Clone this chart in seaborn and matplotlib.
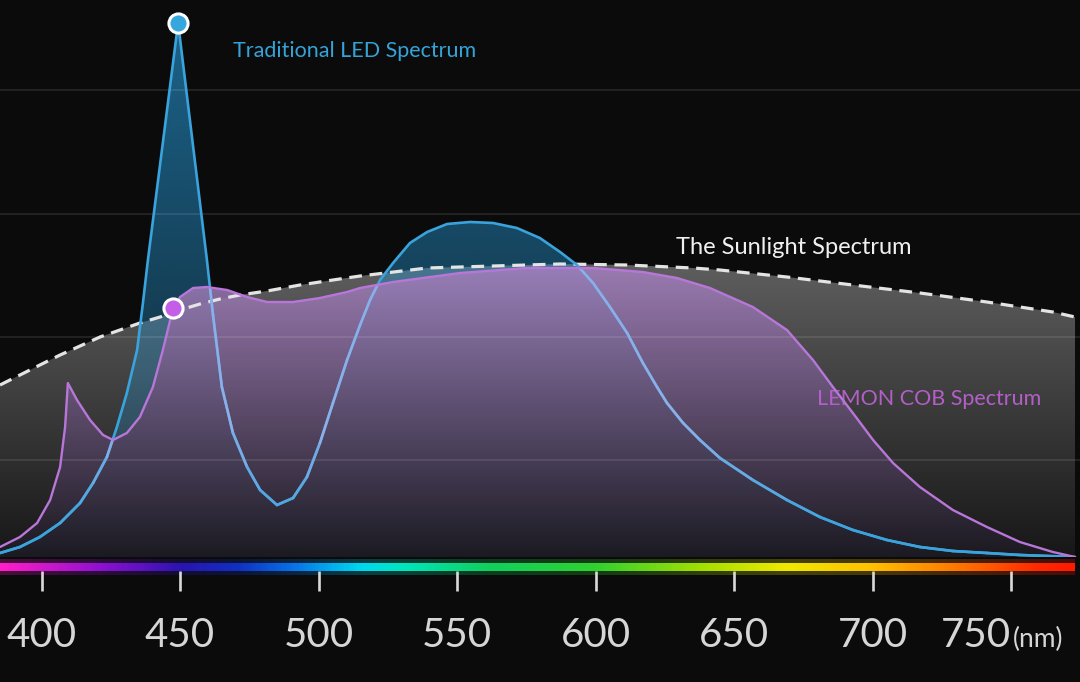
import numpy as np
import matplotlib
matplotlib.use("Agg")
import matplotlib.pyplot as plt
from matplotlib.colors import LinearSegmentedColormap, to_rgba
from matplotlib.collections import LineCollection
from matplotlib.patches import PathPatch
import seaborn as sns

# wavelength (nm) / relative intensity
sun_nm = [385.0, 392.2, 399.4, 406.7, 413.9, 421.1, 428.3, 435.5, 442.8, 450.0,
          457.2, 464.4, 471.6, 481.4, 493.3, 505.2, 515.0, 539.2, 563.0, 587.2,
          611.4, 635.2, 644.9, 669.1, 692.9, 717.1, 741.3, 765.1, 773.1]
sun_val = [1.72, 1.82, 1.92, 2.02, 2.11, 2.20, 2.27, 2.34, 2.40, 2.47,
           2.53, 2.58, 2.62, 2.66, 2.72, 2.77, 2.81, 2.89, 2.91, 2.93,
           2.92, 2.89, 2.87, 2.80, 2.72, 2.64, 2.55, 2.45, 2.40]

led_nm = [385.0, 392.2, 399.4, 406.7, 413.9, 418.6, 423.6, 427.2, 430.8, 434.5,
          436.6, 438.4, 449.3, 459.7, 461.9, 465.1, 469.1, 474.2, 478.9, 485.0,
          490.8, 495.8, 500.5, 505.2, 510.3, 515.0, 518.6, 522.2, 526.9, 533.0,
          539.2, 546.4, 554.7, 563.0, 571.6, 579.9, 587.2, 593.3, 599.1, 605.2,
          611.4, 617.1, 622.2, 625.8, 631.6, 637.7, 644.9, 656.8, 669.1, 681.0,
          692.9, 705.2, 717.1, 729.0, 741.3, 753.2, 773.1]
led_val = [0.04, 0.10, 0.20, 0.34, 0.54, 0.74, 1.00, 1.30, 1.64, 2.07,
           2.54, 2.97, 5.34, 2.97, 2.42, 1.70, 1.24, 0.90, 0.67, 0.52,
           0.59, 0.80, 1.14, 1.54, 1.97, 2.32, 2.57, 2.77, 2.94, 3.14,
           3.25, 3.33, 3.35, 3.34, 3.29, 3.19, 3.05, 2.92, 2.74, 2.50,
           2.24, 1.94, 1.70, 1.54, 1.34, 1.17, 0.99, 0.77, 0.57, 0.40,
           0.27, 0.17, 0.10, 0.06, 0.04, 0.02, 0.00]

cob_nm = [385.0, 392.2, 398.4, 403.1, 406.7, 408.5, 409.5, 412.8, 417.5, 422.2,
          425.8, 430.8, 435.5, 440.2, 443.8, 447.5, 450.0, 454.7, 459.7, 467.0,
          474.2, 481.4, 490.8, 500.5, 510.3, 515.0, 526.9, 551.1, 575.3, 599.1,
          617.1, 629.4, 641.3, 656.8, 669.1, 678.5, 685.7, 692.9, 700.2, 707.4,
          717.1, 729.0, 741.3, 753.2, 765.1, 773.1]
cob_val = [0.10, 0.20, 0.34, 0.57, 0.90, 1.30, 1.74, 1.57, 1.37, 1.22,
           1.17, 1.24, 1.40, 1.70, 2.07, 2.49, 2.60, 2.69, 2.70, 2.67,
           2.60, 2.55, 2.55, 2.59, 2.65, 2.69, 2.75, 2.84, 2.89, 2.89,
           2.85, 2.79, 2.69, 2.50, 2.27, 1.97, 1.70, 1.44, 1.17, 0.94,
           0.70, 0.47, 0.30, 0.15, 0.05, 0.00]
cob_marker_nm = 447.5

tick_nm = [400, 450, 500, 550, 600, 650, 700, 750]
tick_labels = ["400", "450", "500", "550", "600", "650", "700", "750"]

# colour strip under the chart
bar_nm = [385, 420, 450, 470, 490, 515, 530, 560, 600, 640, 670, 700, 730, 760, 773]
bar_colors = ["#ff1ec8", "#9010d0", "#2a14b0", "#1030c0", "#0870e8", "#00d8f0",
              "#00e6c0", "#10d060", "#30d030", "#a8e000", "#f0e800", "#ffc000",
              "#ff7a00", "#ff2a00", "#ff1a00"]

sns.set_theme(style="dark")
plt.rcParams["font.family"] = ["Lato", "DejaVu Sans"]

BG = "#0b0b0b"
LED_BLUE = "#3ba3dc"
LED_PALE = "#8eaee8"
X0, X1 = 385, 774.9
YMAX = 5.57

fig = plt.figure(figsize=(10.8, 6.82), dpi=100, facecolor=BG)
ax = fig.add_axes([0, 1 - 557 / 682, 1, 557 / 682])
ax.set_facecolor(BG)


def gradient_fill(ax, x, y, top, bottom, z):
    poly = ax.fill_between(x, y, 0, color="none", lw=0)
    clip = PathPatch(poly.get_paths()[0], transform=ax.transData, fc="none", ec="none")
    ax.add_patch(clip)
    t = np.linspace(0, 1, 256)[:, None]
    c0, c1 = np.array(to_rgba(bottom)), np.array(to_rgba(top))
    img = (c0 + (c1 - c0) * t)[:, None, :]
    im = ax.imshow(img, extent=[x[0], x[-1], 0, max(y)], origin="lower",
                   aspect="auto", zorder=z, interpolation="bilinear")
    im.set_clip_path(clip)
    return clip


gradient_fill(ax, sun_nm, sun_val, "#5e5e5e", "#171717", 1.0)
gradient_fill(ax, led_nm, led_val, (0.15, 0.6, 0.85, 0.62), (0.15, 0.6, 0.85, 0.15), 1.5)
cob_clip = gradient_fill(ax, cob_nm, cob_val, (0.64, 0.5, 0.74, 0.88),
                         (0.11, 0.1, 0.13, 0.9), 2.0)

# faint horizontal guides
ax.set_yticks([0.97, 2.20, 3.43, 4.67])
ax.set_axisbelow(False)
ax.grid(axis="y", color="white", alpha=0.10, lw=1.3)
ax.grid(axis="x", visible=False)

sns.lineplot(x=sun_nm, y=sun_val, ax=ax, color="#e4e4e4", lw=2.3, zorder=5)
ax.lines[-1].set_dashes((4, 2.4))
sns.lineplot(x=led_nm, y=led_val, ax=ax, color=LED_BLUE, lw=1.9, zorder=5.5)

# inside the COB area the LED line turns paler, fading back to blue near the floor
pts = np.column_stack([led_nm, led_val])
segs = np.stack([pts[:-1], pts[1:]], axis=1)
mid = (pts[:-1, 1] + pts[1:, 1]) / 2
w = np.clip((mid - 0.3) / 1.0, 0, 1)[:, None]
seg_cols = (1 - w) * np.array(to_rgba(LED_BLUE)) + w * np.array(to_rgba(LED_PALE))
lc = LineCollection(segs, colors=seg_cols, linewidths=1.9, zorder=5.6, capstyle="round")
ax.add_collection(lc)
lc.set_clip_path(cob_clip)

sns.lineplot(x=cob_nm, y=cob_val, ax=ax, color="#b877d8", lw=1.7, zorder=6)

i_led = int(np.argmax(led_val))
i_cob = cob_nm.index(cob_marker_nm)
sns.scatterplot(x=[led_nm[i_led]], y=[led_val[i_led]], ax=ax, s=190, color="#35a7dc",
                edgecolor="white", linewidth=2.2, zorder=8)
sns.scatterplot(x=[cob_nm[i_cob]], y=[cob_val[i_cob]], ax=ax, s=190, color="#c55ee6",
                edgecolor="white", linewidth=2.2, zorder=8)

ax.text(469, 5.06, "Traditional LED Spectrum", color="#35a3d8", fontsize=15.5,
        ha="left", va="center", zorder=4)
ax.text(629.2, 3.10, "The Sunlight Spectrum", color="#f0f0f0", fontsize=17,
        ha="left", va="center", zorder=4)
ax.text(679.8, 1.58, "LEMON COB Spectrum", color="#b45fc8", fontsize=15.5,
        ha="left", va="center", zorder=4)

ax.set_xlim(X0, X1)
ax.set_ylim(0, YMAX)
ax.tick_params(left=False, bottom=False, labelleft=False, labelbottom=False)
for s in ax.spines.values():
    s.set_visible(False)
ax.set_xlabel("")
ax.set_ylabel("")

# soft glow behind the colour strip
pos = [(n - bar_nm[0]) / (bar_nm[-1] - bar_nm[0]) for n in bar_nm]
cmap = LinearSegmentedColormap.from_list("spec", list(zip(pos, bar_colors)))
strip = np.linspace(bar_nm[0], bar_nm[-1], 600)[None, :]
axg = fig.add_axes([0, 1 - 575 / 682, 1, 16 / 682])
axg.imshow(strip, cmap=cmap, norm=plt.Normalize(bar_nm[0], bar_nm[-1]),
           extent=[bar_nm[0], bar_nm[-1], 0, 1], aspect="auto", alpha=0.25)
axg.set_xlim(X0, X1)
axg.axis("off")

# spectrum colour strip with wavelength ticks
axb = fig.add_axes([0, 1 - 571 / 682, 1, 8 / 682])
axb.patch.set_alpha(0)
axb.imshow(strip, cmap=cmap, norm=plt.Normalize(bar_nm[0], bar_nm[-1]),
           extent=[bar_nm[0], bar_nm[-1], 0, 1], aspect="auto")
axb.set_xlim(X0, X1)
axb.set_ylim(0, 1)
axb.set_yticks([])
axb.set_xticks(tick_nm, tick_labels)
axb.tick_params(axis="x", direction="out", length=14.4, width=1.9, color="#d9d9d9",
                pad=19, labelsize=29, labelcolor="#d6d6d6", bottom=True)
for s in axb.spines.values():
    s.set_visible(False)

last = axb.get_xticklabels()[-1]
last.set_ha("right")
axb.annotate("(nm)", xy=(1, 0.2), xycoords=last, xytext=(1, 0),
             textcoords="offset points", ha="left", va="baseline",
             fontsize=19, color="#d6d6d6")

fig.savefig("out.png", dpi=100, facecolor=BG)
